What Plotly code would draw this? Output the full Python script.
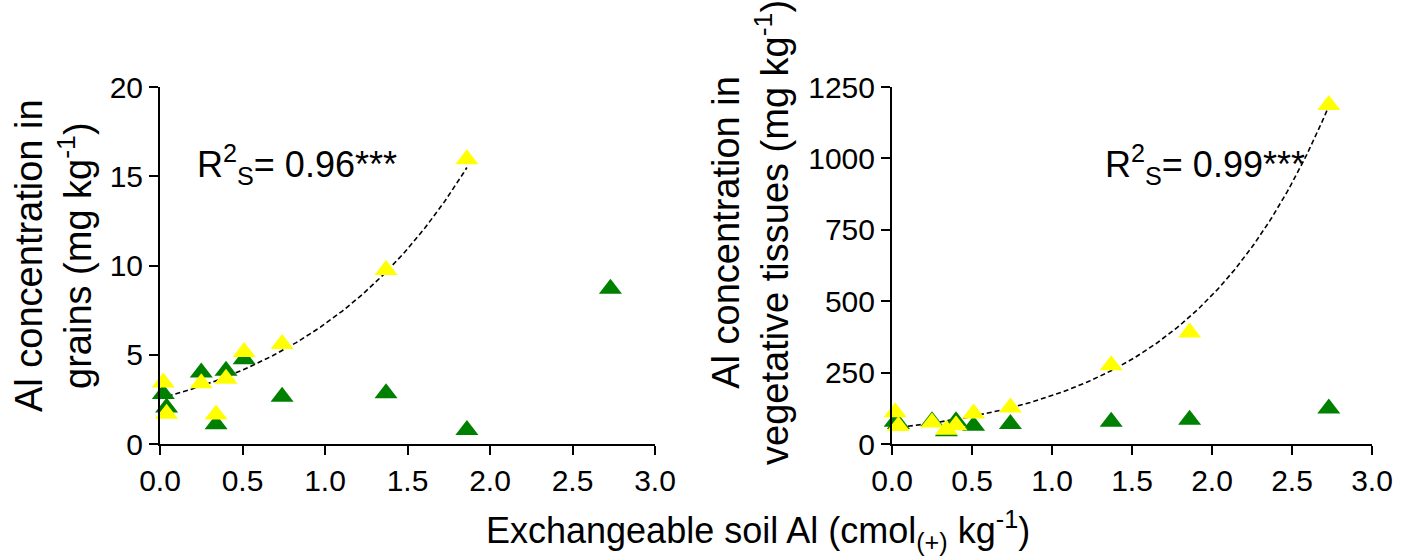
import numpy as np
import plotly.graph_objects as go

# Exchangeable soil Al (cmol(+) kg-1) for each sampling site
soil_al = [0.02, 0.04, 0.25, 0.34, 0.40, 0.51, 0.74, 1.37, 1.86, 2.73]

# Al in grains (mg kg-1)
grain_green = [2.8, 2.05, 4.0, 1.1, 4.1, 4.75, 2.65, 2.85, 0.78, 8.7]
grain_yellow = [3.45, 1.7, 3.4, 1.65, 3.65, 5.15, 5.6, 9.75, 15.95, None]

# Al in vegetative tissues (mg kg-1)
veg_green = [78, 70, 80, 45, 80, 64, 70, 78, 85, 124]
veg_yellow = [111, 63, 75, 50, 66, 107, 128, 276, 390, 1187]

# Exponential fits y = a * exp(b * x) for the yellow series
grain_fit = dict(a=2.55, b=0.97, xmax=1.86)
veg_fit = dict(a=55.0, b=1.124, xmax=2.73)

grain_ticks = [0, 5, 10, 15, 20]
veg_ticks = [0, 250, 500, 750, 1000, 1250]
x_ticks = [0.0, 0.5, 1.0, 1.5, 2.0, 2.5, 3.0]

GREEN = "#008000"
YELLOW = "#FFFF00"
FONT = "Arial, Liberation Sans, sans-serif"
W, H = 1415, 556


def px_x(p):
    return p / W


def px_y(p):
    return 1 - p / H


fig = go.Figure()

panels = [
    ("x", "y", grain_green, grain_yellow, grain_fit),
    ("x2", "y2", veg_green, veg_yellow, veg_fit),
]
for xa, ya, green, yellow, fit in panels:
    xs = np.linspace(0, fit["xmax"], 200)
    fig.add_trace(go.Scatter(
        x=xs, y=fit["a"] * np.exp(fit["b"] * xs), mode="lines",
        line=dict(color="black", width=1.6, dash="5px,3px"),
        xaxis=xa, yaxis=ya, showlegend=False, hoverinfo="skip",
        cliponaxis=False,
    ))
    fig.add_trace(go.Scatter(
        x=soil_al, y=green, mode="markers",
        marker=dict(symbol="triangle-up", size=20, color=GREEN,
                    line=dict(width=0)),
        xaxis=xa, yaxis=ya, showlegend=False, cliponaxis=False,
    ))
    fig.add_trace(go.Scatter(
        x=soil_al, y=yellow, mode="markers",
        marker=dict(symbol="triangle-up", size=20, color=YELLOW,
                    line=dict(width=0)),
        xaxis=xa, yaxis=ya, showlegend=False, cliponaxis=False,
    ))

axis_style = dict(
    showline=True, linecolor="black", linewidth=2,
    ticks="outside", ticklen=9, tickwidth=2, tickcolor="black",
    showgrid=False, zeroline=False, automargin=False,
    tickfont=dict(family=FONT, size=30, color="black"),
)

y_dom = [px_y(444), px_y(87)]
fig.update_layout(
    width=W, height=H,
    margin=dict(l=0, r=0, t=0, b=0, pad=0, autoexpand=False),
    paper_bgcolor="white", plot_bgcolor="white",
    xaxis=dict(domain=[px_x(160), px_x(655)], range=[0, 3], anchor="y",
               tickvals=x_ticks, ticktext=[f"{v:.1f}" for v in x_ticks],
               **axis_style),
    yaxis=dict(domain=y_dom, range=[0, 20], anchor="x",
               tickvals=grain_ticks, **axis_style),
    xaxis2=dict(domain=[px_x(892), px_x(1372)], range=[0, 3], anchor="y2",
                tickvals=x_ticks, ticktext=[f"{v:.1f}" for v in x_ticks],
                **axis_style),
    yaxis2=dict(domain=y_dom, range=[0, 1250], anchor="x2",
                tickvals=veg_ticks, **axis_style),
)

title_font = dict(family=FONT, size=38, color="black")
annotations = [
    dict(text="Al concentration in<br>grains (mg kg<sup>-1</sup>)",
         x=px_x(53), y=px_y(256), textangle=-90, font=title_font),
    dict(text="Al concentration in<br>vegetative tissues (mg kg<sup>-1</sup>)",
         x=px_x(750), y=px_y(233), textangle=-90, font=title_font),
    dict(text="Exchangeable soil Al (cmol<sub>(+)</sub> kg<sup>-1</sup>)",
         x=px_x(758), y=px_y(530), textangle=0,
         font=dict(family=FONT, size=36, color="black")),
]
for a in annotations:
    fig.add_annotation(xref="paper", yref="paper", showarrow=False,
                       xanchor="center", yanchor="middle", **a)

r2_font = dict(family=FONT, size=36, color="black")
for label, x0 in [("0.96", 195), ("0.99", 1103)]:
    fig.add_annotation(
        text=f"R<sup>2</sup><sub>S</sub>= {label}***",
        xref="paper", yref="paper", x=px_x(x0), y=px_y(165),
        xanchor="left", yanchor="middle", showarrow=False, font=r2_font,
    )

fig.write_html("out.html")
